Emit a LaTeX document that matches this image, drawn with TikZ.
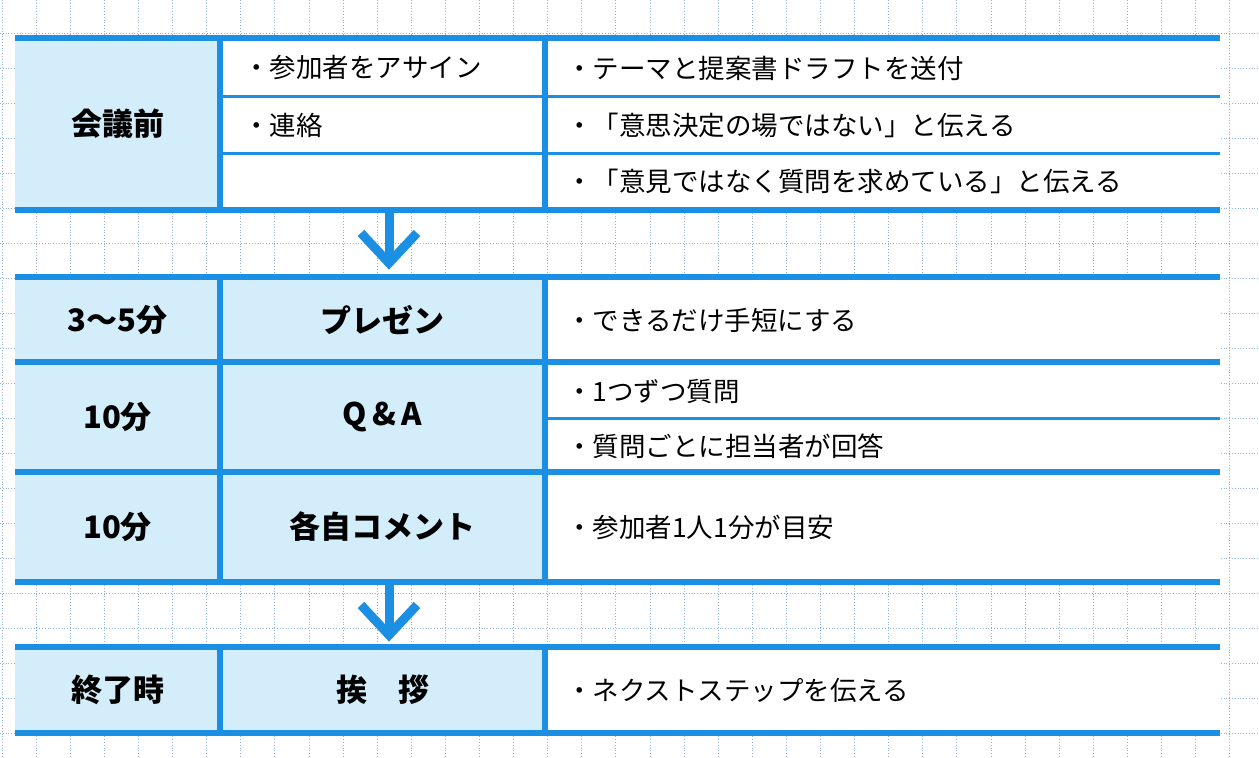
\documentclass[tikz,border=0pt]{standalone}
\usepackage{fontspec}
\setmainfont{Noto Sans CJK JP}
\definecolor{bl}{HTML}{1A8FE3}
\definecolor{sh}{HTML}{D3EDFB}
\definecolor{gr}{HTML}{8FB4D6}
\begin{document}
\begin{tikzpicture}[x=1pt,y=-1pt,
  thick line/.style={draw=bl,line width=6pt},
  thin line/.style={draw=bl,line width=3pt},
  txt/.style={anchor=west,font=\fontsize{26.5}{30}\selectfont,inner sep=0},
  hd/.style={font=\fontsize{31}{34}\selectfont\bfseries,inner sep=0},
  arr/.style={draw=bl,line width=9pt}]
\useasboundingbox (0,0) rectangle (1259,758);
\fill[white] (0,0) rectangle (1259,758);
\foreach \i in {0,...,36} \draw[gr,line width=0.8pt,dotted] (2+34.1*\i,0) -- (2+34.1*\i,758);
\foreach \j in {0,...,21} \draw[gr,line width=0.8pt,dotted] (0,-2+35*\j) -- (1259,-2+35*\j);
% table 1
\fill[white] (15,38) rectangle (1220,210);
\fill[sh] (15,38) rectangle (220,210);
\draw[thin line] (220,96) -- (1220,96) (220,153) -- (1220,153);
\draw[thick line] (220,38) -- (220,210) (545,38) -- (545,210);
\draw[thick line] (15,38) -- (1220,38) (15,210) -- (1220,210);
\node[hd] (h1) at (117.5,124) {会議前};
\node[txt] (a1) at (243,68) {・参加者をアサイン};
\node[txt] (a2) at (243,125) {・連絡};
\node[txt] (b1) at (566,68) {・テーマと提案書ドラフトを送付};
\node[txt] (b2) at (566,125) {・「意思決定の場ではない」と伝える};
\node[txt] (b3) at (566,181) {・「意見ではなく質問を求めている」と伝える};
% table 2
\fill[white] (15,277) rectangle (1220,582);
\fill[sh] (15,277) rectangle (545,582);
\draw[thin line] (545,418) -- (1220,418);
\draw[thick line] (220,277) -- (220,582) (545,277) -- (545,582);
\draw[thick line] (15,277) -- (1220,277) (15,362) -- (1220,362) (15,472) -- (1220,472) (15,582) -- (1220,582);
\node[hd] (t1) at (117.5,320) {3〜5分};
\node[hd] (p1) at (382.5,320) {プレゼン};
\node[txt] (c1) at (566,320) {・できるだけ手短にする};
\node[hd] (t2) at (117.5,417) {10分};
\node[hd] (p2) at (382.5,417) {Q\,\&\,A};
\node[txt] (c2) at (566,391) {・1つずつ質問};
\node[txt] (c3) at (566,446) {・質問ごとに担当者が回答};
\node[hd] (t3) at (117.5,527) {10分};
\node[hd] (p3) at (382.5,527) {各自コメント};
\node[txt] (c4) at (566,527) {・参加者1人1分が目安};
% table 3
\fill[white] (15,647) rectangle (1220,733);
\fill[sh] (15,647) rectangle (545,733);
\draw[thick line] (220,647) -- (220,733) (545,647) -- (545,733);
\draw[thick line] (15,647) -- (1220,647) (15,733) -- (1220,733);
\node[hd] (t4) at (117.5,690) {終了時};
\node[hd] (p4) at (382.5,690) {挨　拶};
\node[txt] (c5) at (566,690) {・ネクストステップを伝える};
% arrows
\coordinate (s1) at (389,210); \coordinate (e1) at (389,262);
\draw[arr] (s1) -- (e1);
\draw[arr,line cap=butt,line join=miter] (361,233) -- (389,263) -- (417,233);
\coordinate (s2) at (389,582); \coordinate (e2) at (389,634);
\draw[arr] (s2) -- (e2);
\draw[arr,line cap=butt,line join=miter] (361,605) -- (389,635) -- (417,605);
\end{tikzpicture}
\end{document}
